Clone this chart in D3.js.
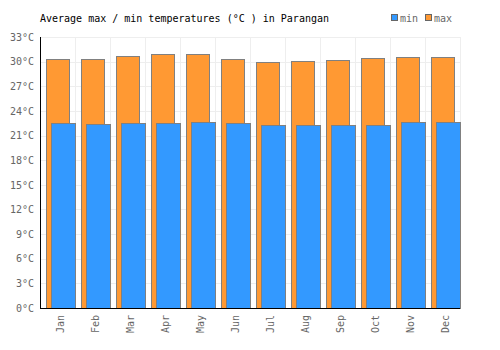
<!DOCTYPE html>
<html>
<head>
<meta charset="utf-8">
<script src="https://cdn.jsdelivr.net/npm/d3@7"></script>
<style>
  body { margin: 0; background: #fff; }
  svg text { font-family: "DejaVu Sans Mono", monospace; font-size: 10px; }
</style>
</head>
<body>
<svg id="chart" width="500" height="350"></svg>
<script>
// Chart data
const months = ['Jan', 'Feb', 'Mar', 'Apr', 'May', 'Jun', 'Jul', 'Aug', 'Sep', 'Oct', 'Nov', 'Dec'];
const maxTemps = [30.3, 30.3, 30.7, 30.9, 30.9, 30.3, 29.9, 30.05, 30.2, 30.4, 30.6, 30.6];
const minTemps = [22.5, 22.4, 22.5, 22.5, 22.65, 22.5, 22.3, 22.3, 22.3, 22.3, 22.65, 22.65];
const yTicks = [0, 3, 6, 9, 12, 15, 18, 21, 24, 27, 30, 33];

const margin = { left: 40, top: 37, right: 40, bottom: 42 };
const width = 500 - margin.left - margin.right;
const height = 350 - margin.top - margin.bottom;

const svg = d3.select('#chart');

const xScale = d3.scaleBand().domain(months).range([0, width]);
const yScale = d3.scaleLinear().domain([0, 33]).range([height, 0]);

const g = svg.append('g').attr('transform', `translate(${margin.left},${margin.top})`);

// Gridlines
g.append('g')
  .selectAll('line')
  .data(yTicks)
  .enter()
  .append('line')
  .attr('x1', 0)
  .attr('x2', width)
  .attr('y1', (d) => Math.round(yScale(d)) + 0.5)
  .attr('y2', (d) => Math.round(yScale(d)) + 0.5)
  .attr('stroke', '#eeeeee');

g.append('g')
  .selectAll('line')
  .data(months)
  .enter()
  .append('line')
  .attr('x1', (d) => Math.round(xScale(d) + xScale.bandwidth()) + 0.5)
  .attr('x2', (d) => Math.round(xScale(d) + xScale.bandwidth()) + 0.5)
  .attr('y1', 0)
  .attr('y2', height)
  .attr('stroke', '#eeeeee');

// Max bars (behind)
g.append('g')
  .selectAll('rect')
  .data(months)
  .enter()
  .append('rect')
  .attr('x', (d) => Math.round(xScale(d)) + 6.5)
  .attr('y', (d, i) => Math.round(yScale(maxTemps[i])) + 0.5)
  .attr('width', 23)
  .attr('height', (d, i) => height - Math.round(yScale(maxTemps[i])))
  .attr('fill', '#ff9933')
  .attr('stroke', '#808080')
  .attr('stroke-width', 1);

// Min bars (front)
g.append('g')
  .selectAll('rect')
  .data(months)
  .enter()
  .append('rect')
  .attr('x', (d) => Math.round(xScale(d)) + 11.5)
  .attr('y', (d, i) => Math.round(yScale(minTemps[i])) + 0.5)
  .attr('width', 24)
  .attr('height', (d, i) => height - Math.round(yScale(minTemps[i])))
  .attr('fill', '#3399ff')
  .attr('stroke', '#808080')
  .attr('stroke-width', 1);

// Axes
const yAxis = g.append('g')
  .call(d3.axisLeft(yScale).tickValues(yTicks).tickSize(0).tickPadding(6).tickFormat((d) => d + '°C'));
yAxis.select('.domain').remove();
yAxis.selectAll('text').attr('fill', '#666666').style('font-size', '10px').style('font-family', '"DejaVu Sans Mono", monospace');

g.append('line')
  .attr('x1', 0.5).attr('x2', 0.5)
  .attr('y1', 0).attr('y2', height + 0.5)
  .attr('stroke', '#000');
g.append('line')
  .attr('x1', 0).attr('x2', width)
  .attr('y1', height + 0.5).attr('y2', height + 0.5)
  .attr('stroke', '#000');

const xAxis = g.append('g')
  .attr('transform', `translate(0,${height})`)
  .call(d3.axisBottom(xScale).tickSize(0).tickPadding(0));
xAxis.select('.domain').remove();
xAxis.selectAll('text')
  .attr('fill', '#666666')
  .style('font-size', '10px')
  .style('font-family', '"DejaVu Sans Mono", monospace')
  .attr('text-anchor', 'end')
  .attr('transform', 'rotate(-90)')
  .attr('x', -7)
  .attr('y', 3)
  .attr('dy', '0.35em');

// Title
svg.append('text')
  .attr('x', 40)
  .attr('y', 22)
  .attr('fill', '#000')
  .text('Average max / min temperatures (°C ) in Parangan');

// Legend
const legendItems = [
  { label: 'min', color: '#3399ff', x: 391 },
  { label: 'max', color: '#ff9933', x: 425 },
];
const legend = svg.append('g').selectAll('g').data(legendItems).enter().append('g');
legend.append('rect')
  .attr('x', (d) => d.x + 0.5)
  .attr('y', 14.5)
  .attr('width', 6)
  .attr('height', 6)
  .attr('fill', (d) => d.color)
  .attr('stroke', '#666666');
legend.append('text')
  .attr('x', (d) => d.x + 9)
  .attr('y', 22)
  .attr('fill', '#666666')
  .text((d) => d.label);
</script>
</body>
</html>
